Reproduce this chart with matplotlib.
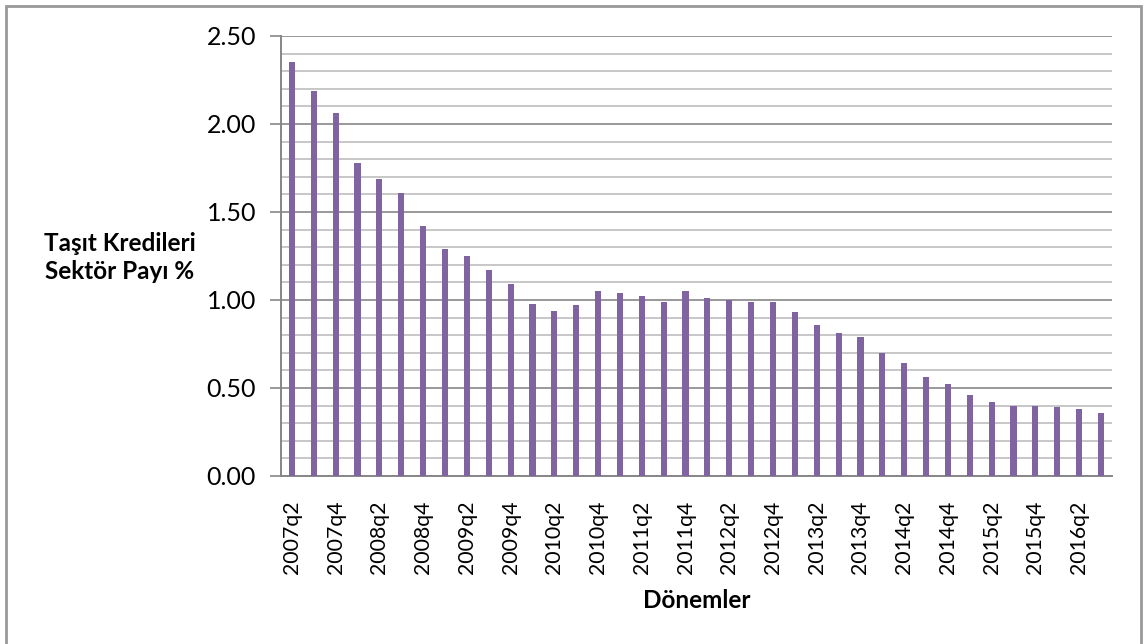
import matplotlib.pyplot as plt
from matplotlib.patches import Rectangle
from matplotlib.ticker import MultipleLocator

# quarterly periods 2007q2 .. 2016q3
quarters = [f"{y}q{q}" for y in range(2007, 2017) for q in range(1, 5)][1:39]
share = [2.35, 2.19, 2.06, 1.78, 1.69, 1.61, 1.42, 1.29, 1.25, 1.17,
         1.09, 0.98, 0.94, 0.97, 1.05, 1.04, 1.02, 0.99, 1.05, 1.01,
         1.00, 0.99, 0.99, 0.93, 0.86, 0.81, 0.79, 0.70, 0.64, 0.56,
         0.52, 0.46, 0.42, 0.40, 0.40, 0.39, 0.38, 0.36]
tick_labels = quarters[::2]

plt.rcParams['font.family'] = ['Lato', 'DejaVu Sans']

fig = plt.figure(figsize=(11.46, 6.44), dpi=100)
ax = fig.add_axes([0.2452, 0.2609, 0.7251, 0.6832])

x = list(range(len(share)))
ax.bar(x, share, width=0.28, color='#8064A2', zorder=3)

ax.set_xlim(-0.5, len(share) - 0.5)
ax.set_ylim(0, 2.5)
ax.yaxis.set_major_locator(MultipleLocator(0.5))
ax.yaxis.set_minor_locator(MultipleLocator(0.1))
ax.set_yticklabels([f"{v:.2f}" for v in ax.get_yticks()])
ax.grid(axis='y', which='major', color='#868686', linewidth=1.2, zorder=0)
ax.grid(axis='y', which='minor', color='#BEBEBE', linewidth=1.2, zorder=0)
ax.tick_params(axis='y', which='major', length=8, width=1.2, color='#868686',
               labelsize=18, pad=10)
ax.tick_params(axis='y', which='minor', length=0)

ax.set_xticks(x[::2])
ax.set_xticklabels(tick_labels, rotation=90)
ax.tick_params(axis='x', length=0, labelsize=15.3, pad=18)

for side in ['top', 'right']:
    ax.spines[side].set_visible(False)
for side in ['left', 'bottom']:
    ax.spines[side].set_color('#868686')
    ax.spines[side].set_linewidth(1.4)

fig.text(0.1047, 0.6, "Taşıt Kredileri\nSektör Payı %", ha='center', va='center',
         fontsize=17.5, fontweight='bold', multialignment='center', linespacing=1.25)
fig.text(0.608, 0.068, "Dönemler", ha='center', va='center',
         fontsize=17.5, fontweight='bold')

# chart frame
fig.patches.append(Rectangle((6 / 1146, -0.05), 1135 / 1146, 1 - 6 / 644 + 0.05,
                             transform=fig.transFigure, fill=False,
                             edgecolor='#999999', linewidth=2))

fig.savefig('out.png', dpi=100)
